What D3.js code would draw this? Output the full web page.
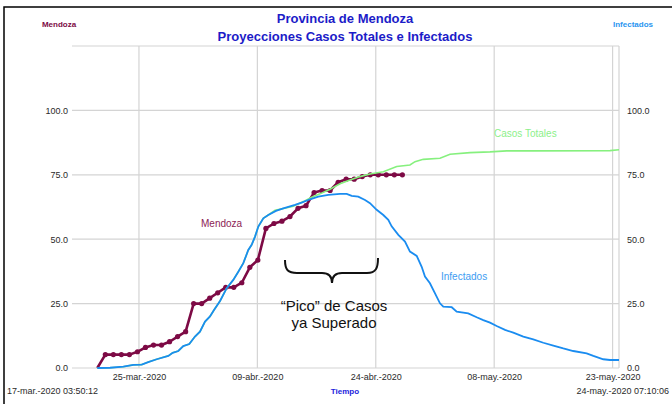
<!DOCTYPE html>
<html>
<head>
<meta charset="utf-8">
<script src="https://cdn.jsdelivr.net/npm/d3@7"></script>
<style>
  body { margin: 0; background: #fff; }
  svg { display: block; font-family: "Liberation Sans", Arial, sans-serif; }
</style>
</head>
<body>
<div id="chart"></div>
<script>
// Eje de tiempo
const startTime = new Date(2020, 2, 17, 3, 50, 12);
const endTime = new Date(2020, 4, 24, 7, 10, 6);
const tickTimes = [
    new Date(2020, 2, 25, 12), new Date(2020, 3, 9, 6), new Date(2020, 3, 24, 0),
    new Date(2020, 4, 8, 18), new Date(2020, 4, 23, 12)
];
const tickLabels = ['25-mar.-2020', '09-abr.-2020', '24-abr.-2020', '08-may.-2020', '23-may.-2020'];
const yTicks = [0, 25, 50, 75, 100];

// Mendoza: un valor por dia
const mendozaStart = new Date(2020, 2, 20, 7, 30);
const mendozaValues = [
    0, 5.2, 5.2, 5.2, 5.2, 6.3, 8.0, 8.9, 8.9, 10.2, 12.2, 14.1, 25.0, 25.0, 27.1,
    29.2, 31.3, 31.3, 33.1, 39.1, 41.9, 54.2, 56.1, 57.0, 58.8, 62.0, 63.0, 68.1,
    68.9, 68.9, 72.1, 73.3, 73.3, 74.3, 75.0, 75.0, 75.0, 75.0, 75.0
];

// Infectados (dias desde el inicio, valor)
const infectadosDays = [
    3.15, 4.73, 6.39, 7.64, 8.68, 9.50, 10.55, 12.0, 12.54, 13.24, 13.86, 14.61, 15.32,
    15.94, 16.57, 17.19, 17.69, 18.44, 19.27, 20.09, 20.72, 21.34, 21.96, 22.38, 22.80,
    23.21, 23.83, 24.45, 25.41, 26.32, 27.78, 28.61, 29.65, 30.68, 31.93, 33.38, 34.22,
    34.84, 35.66, 36.50, 37.12, 37.95, 38.78, 39.40, 39.82, 40.65, 41.48, 42.10, 42.94,
    43.56, 43.97, 44.59, 45.22, 45.84, 46.25, 47.30, 47.92, 49.36, 50.41, 51.23, 52.07,
    52.90, 53.94, 54.97, 56.22, 57.46, 58.71, 59.96, 61.20, 62.44, 64.11, 64.94, 66.18,
    67.02, 68.14
];
const infectadosValues = [
    0, 0.1, 0.5, 1.2, 1.3, 2.3, 3.4, 4.7, 5.9, 6.6, 8.5, 9.3, 12.2,
    14.1, 18.0, 20.0, 22.5, 26.0, 31.0, 34.2, 37.4, 40.7, 45.8, 47.8, 51.0,
    54.9, 58.1, 59.4, 61.0, 62.0, 63.3, 64.2, 65.5, 66.5, 67.2, 67.6, 67.6,
    66.8, 66.5, 65.2, 64.0, 61.4, 59.4, 57.5, 55.0, 51.7, 49.1, 45.2, 43.5,
    39.3, 35.5, 32.9, 29.0, 25.1, 23.8, 23.6, 21.9, 21.2, 19.7, 18.6, 17.6,
    16.3, 14.8, 13.7, 12.2, 11.1, 9.8, 8.7, 7.6, 6.6, 5.7, 4.7, 3.4,
    3.1, 3.1
];

// Casos Totales (dias desde el inicio, valor)
const casosDays = [
    3.15, 4.73, 6.39, 7.64, 8.68, 9.50, 10.55, 12.0, 12.54, 13.24, 13.86, 14.61, 15.32,
    15.94, 16.57, 17.19, 17.69, 18.44, 19.27, 20.09, 20.72, 21.34, 21.96, 22.38, 22.80,
    23.21, 23.83, 24.45, 25.30, 27.57, 28.81, 29.86, 30.89, 32.14, 33.38, 34.63, 35.87,
    37.12, 38.78, 40.45, 42.10, 42.73, 43.76, 45.84, 47.09, 49.58, 52.07, 54.15, 57.46,
    67.02, 68.14
];
const casosValues = [
    0, 0.1, 0.5, 1.2, 1.3, 2.3, 3.4, 4.7, 5.9, 6.6, 8.5, 9.3, 12.2,
    14.1, 18.0, 20.0, 22.5, 26.0, 31.0, 34.2, 37.4, 40.7, 45.8, 47.8, 51.0,
    54.9, 58.1, 59.4, 61.2, 62.8, 64.6, 66.3, 67.6, 69.4, 71.5, 73.0, 74.3,
    75.3, 76.2, 78.2, 78.8, 80.1, 81.0, 81.4, 83.0, 83.6, 83.9, 84.3, 84.3,
    84.4, 84.7
];

const width = 672;
const height = 404;
const plot = { left: 72, right: 619, top: 46, bottom: 368 };

const colors = {
    mendoza: '#7d0a45',
    infectados: '#1a8cf0',
    casos: '#86f07e',
    title: '#1c1cc8',
    grid: '#d4d4d4',
    text: '#2a2a2a'
};

const dayToTime = d => new Date(+startTime + d * 864e5);

const svg = d3.select('#chart')
    .append('svg')
    .attr('width', width)
    .attr('height', height);

// marco exterior
svg.append('rect')
    .attr('x', 4).attr('y', 7)
    .attr('width', width + 20).attr('height', height + 20)
    .attr('fill', 'none')
    .attr('stroke', '#000')
    .attr('stroke-width', 1.5);

const x = d3.scaleTime().domain([startTime, endTime]).range([plot.left, plot.right]);
const y = d3.scaleLinear().domain([0, 125]).range([plot.bottom, plot.top]);

// grilla
const grid = svg.append('g').attr('stroke', colors.grid).attr('stroke-width', 1.2);
yTicks.concat([125]).forEach(v => {
    grid.append('line')
        .attr('x1', plot.left).attr('x2', plot.right)
        .attr('y1', y(v)).attr('y2', y(v));
});
tickTimes.forEach(t => {
    grid.append('line')
        .attr('x1', x(t)).attr('x2', x(t))
        .attr('y1', plot.top).attr('y2', plot.bottom);
});
grid.append('line')
    .attr('x1', plot.right).attr('x2', plot.right)
    .attr('y1', plot.top).attr('y2', plot.bottom);

// ejes
const leftAxis = d3.axisLeft(y).tickValues(yTicks).tickSize(0).tickPadding(4)
    .tickFormat(d3.format('.1f'));
const rightAxis = d3.axisRight(y).tickValues(yTicks).tickSize(0).tickPadding(8)
    .tickFormat(d3.format('.1f'));
const bottomAxis = d3.axisBottom(x).tickValues(tickTimes).tickSize(0).tickPadding(6)
    .tickFormat((d, i) => tickLabels[i]);

[svg.append('g').attr('transform', `translate(${plot.left},0)`).call(leftAxis),
 svg.append('g').attr('transform', `translate(${plot.right},0)`).call(rightAxis),
 svg.append('g').attr('transform', `translate(0,${plot.bottom})`).call(bottomAxis)
].forEach(g => {
    g.select('.domain').remove();
    g.selectAll('text')
        .attr('fill', colors.text)
        .style('font-size', '9px')
        .style('font-family', '"Liberation Sans", Arial, sans-serif');
});

// series
const line = d3.line().x(d => x(d.t)).y(d => y(d.v));

const mendozaData = mendozaValues.map((v, i) => ({ t: d3.timeHour.offset(mendozaStart, 24 * i), v }));
const infectadosData = infectadosDays.map((d, i) => ({ t: dayToTime(d), v: infectadosValues[i] }));
const casosData = casosDays.map((d, i) => ({ t: dayToTime(d), v: casosValues[i] }));

svg.append('path')
    .datum(mendozaData)
    .attr('d', line)
    .attr('fill', 'none')
    .attr('stroke', colors.mendoza)
    .attr('stroke-width', 2.6)
    .attr('stroke-linejoin', 'round');

svg.append('g')
    .selectAll('circle')
    .data(mendozaData.slice(1))
    .enter()
    .append('circle')
    .attr('cx', d => x(d.t))
    .attr('cy', d => y(d.v))
    .attr('r', 2.6)
    .attr('fill', colors.mendoza);

svg.append('path')
    .datum(casosData)
    .attr('d', line)
    .attr('fill', 'none')
    .attr('stroke', colors.casos)
    .attr('stroke-width', 1.6);

svg.append('path')
    .datum(infectadosData)
    .attr('d', line)
    .attr('fill', 'none')
    .attr('stroke', colors.infectados)
    .attr('stroke-width', 1.8);

// etiquetas de series
svg.append('text').attr('x', 201).attr('y', 227)
    .attr('fill', '#8c1d55').style('font-size', '10px').text('Mendoza');
svg.append('text').attr('x', 494).attr('y', 137)
    .attr('fill', '#8cf08a').style('font-size', '10px').text('Casos Totales');
svg.append('text').attr('x', 441).attr('y', 280)
    .attr('fill', '#3d9cf2').style('font-size', '10px').text('Infectados');

// titulos
svg.append('text').attr('x', 345).attr('y', 23).attr('text-anchor', 'middle')
    .attr('fill', colors.title).style('font-size', '13px').style('font-weight', 'bold')
    .text('Provincia de Mendoza');
svg.append('text').attr('x', 345).attr('y', 41).attr('text-anchor', 'middle')
    .attr('fill', colors.title).style('font-size', '13px').style('font-weight', 'bold')
    .text('Proyecciones Casos Totales e Infectados');

svg.append('text').attr('x', 59).attr('y', 27).attr('text-anchor', 'middle')
    .attr('fill', '#7d0a45').style('font-size', '8px').style('font-weight', 'bold')
    .text('Mendoza');
svg.append('text').attr('x', 633).attr('y', 27).attr('text-anchor', 'middle')
    .attr('fill', '#2b95f0').style('font-size', '8px').style('font-weight', 'bold')
    .text('Infectados');

svg.append('text').attr('x', 7).attr('y', 394)
    .attr('fill', colors.text).style('font-size', '9px')
    .text('17-mar.-2020 03:50:12');
svg.append('text').attr('x', 669).attr('y', 394).attr('text-anchor', 'end')
    .attr('fill', colors.text).style('font-size', '9px')
    .text('24-may.-2020 07:10:06');
svg.append('text').attr('x', 345).attr('y', 394).attr('text-anchor', 'middle')
    .attr('fill', '#2222dd').style('font-size', '8px').style('font-weight', 'bold')
    .text('Tiempo');

// llave y anotacion del pico
svg.append('path')
    .attr('d', 'M285,260 C285,270 288,273 297,273 L322,273 C329,273 332,276 332,283 ' +
               'C332,276 335,273 342,273 L367,273 C376,273 378,268 378,258')
    .attr('fill', 'none')
    .attr('stroke', '#111')
    .attr('stroke-width', 2);

const note = svg.append('text').attr('text-anchor', 'middle')
    .attr('fill', '#111').style('font-size', '15px');
note.append('tspan').attr('x', 334).attr('y', 311).text('\u201CPico\u201D de Casos');
note.append('tspan').attr('x', 334).attr('y', 328).text('ya Superado');
</script>
</body>
</html>
